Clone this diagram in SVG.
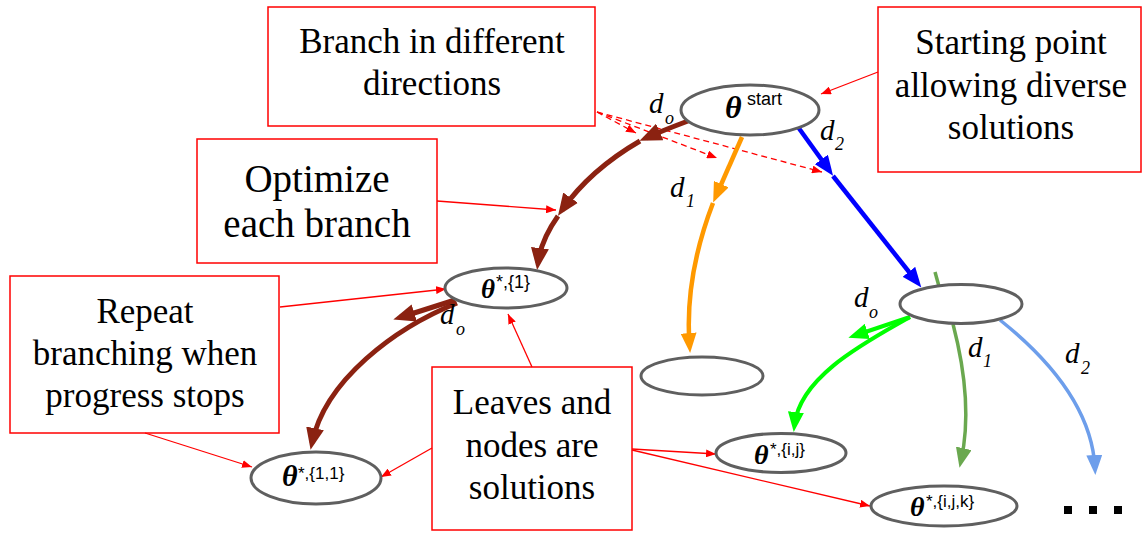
<svg xmlns="http://www.w3.org/2000/svg" width="1144" height="533" viewBox="0 0 1144 533">
  <style>
    .box { fill: #ffffff; stroke: #ff0000; stroke-width: 1.5; }
    .lbl { font-family: "Liberation Serif", "Times New Roman", serif; font-size: 35px; fill: #000; text-anchor: middle; }
    .node { fill: #ffffff; stroke: #5f5f5f; stroke-width: 3; }
    .th { font-family: "Liberation Serif", "Times New Roman", serif; font-weight: bold; font-style: italic; fill: #000; }
    .sup { font-family: "Liberation Sans", Arial, sans-serif; fill: #000; }
    .d { font-family: "Liberation Serif", "Times New Roman", serif; font-style: italic; font-size: 29px; fill: #000; }
    .ds { font-family: "Liberation Serif", "Times New Roman", serif; font-style: italic; font-size: 18px; fill: #000; }
    .call { fill: none; stroke: #ff0000; stroke-width: 1.3; marker-end: url(#aRed); }
    .dash { stroke-dasharray: 6 4; }
    .br { fill: none; stroke: #8b2211; stroke-width: 5; marker-end: url(#aBrown); }
    .or { fill: none; stroke: #ff9900; stroke-width: 4.5; marker-end: url(#aOrange); }
    .bl { fill: none; stroke: #0000ff; stroke-width: 4.5; marker-end: url(#aBlue); }
    .gr { fill: none; stroke: #00ff00; stroke-width: 4; marker-end: url(#aGreen); }
    .ol { fill: none; stroke: #6aa84f; stroke-width: 3.5; marker-end: url(#aOlive); }
    .lb { fill: none; stroke: #6d9eeb; stroke-width: 3.5; marker-end: url(#aLight); }
  </style>
  <defs>
    <marker id="aRed" viewBox="0 0 10 8" refX="10" refY="4" markerWidth="10" markerHeight="8" markerUnits="userSpaceOnUse" orient="auto">
      <path d="M0,0 L10,4 L0,8 z" fill="#ff0000"/>
    </marker>
    <marker id="aBrown" viewBox="0 0 22 18" refX="15" refY="9" markerWidth="22" markerHeight="18" markerUnits="userSpaceOnUse" orient="auto">
      <path d="M0,0 L22,9 L0,18 z" fill="#8b2211"/>
    </marker>
    <marker id="aOrange" viewBox="0 0 20 16" refX="13" refY="8" markerWidth="20" markerHeight="16" markerUnits="userSpaceOnUse" orient="auto">
      <path d="M0,0 L20,8 L0,16 z" fill="#ff9900"/>
    </marker>
    <marker id="aBlue" viewBox="0 0 20 16" refX="13" refY="8" markerWidth="20" markerHeight="16" markerUnits="userSpaceOnUse" orient="auto">
      <path d="M0,0 L20,8 L0,16 z" fill="#0000ff"/>
    </marker>
    <marker id="aGreen" viewBox="0 0 20 16" refX="13" refY="8" markerWidth="20" markerHeight="16" markerUnits="userSpaceOnUse" orient="auto">
      <path d="M0,0 L20,8 L0,16 z" fill="#00ff00"/>
    </marker>
    <marker id="aOlive" viewBox="0 0 20 16" refX="13" refY="8" markerWidth="20" markerHeight="16" markerUnits="userSpaceOnUse" orient="auto">
      <path d="M0,0 L20,8 L0,16 z" fill="#6aa84f"/>
    </marker>
    <marker id="aLight" viewBox="0 0 20 16" refX="13" refY="8" markerWidth="20" markerHeight="16" markerUnits="userSpaceOnUse" orient="auto">
      <path d="M0,0 L20,8 L0,16 z" fill="#6d9eeb"/>
    </marker>
  </defs>

  <rect width="1144" height="533" fill="#ffffff"/>

  <!-- annotation boxes -->
  <g id="note-branch">
    <rect class="box" x="268" y="7" width="327" height="119"/>
    <text class="lbl" x="432" y="53">Branch in different</text>
    <text class="lbl" x="432" y="95">directions</text>
  </g>
  <g id="note-start">
    <rect class="box" x="878" y="7" width="263" height="165"/>
    <text class="lbl" x="1011" y="54">Starting point</text>
    <text class="lbl" x="1011" y="97">allowing diverse</text>
    <text class="lbl" x="1011" y="139">solutions</text>
  </g>
  <g id="note-optimize">
    <rect class="box" x="197" y="139" width="240" height="124"/>
    <text class="lbl" x="317" y="192" style="font-size:39px">Optimize</text>
    <text class="lbl" x="317" y="237" style="font-size:39px">each branch</text>
  </g>
  <g id="note-repeat">
    <rect class="box" x="10" y="276" width="269" height="157"/>
    <text class="lbl" x="145" y="323">Repeat</text>
    <text class="lbl" x="145" y="365">branching when</text>
    <text class="lbl" x="145" y="407">progress stops</text>
  </g>
  <g id="note-leaves">
    <rect class="box" x="432" y="367" width="200" height="163"/>
    <text class="lbl" x="532" y="414">Leaves and</text>
    <text class="lbl" x="532" y="457">nodes are</text>
    <text class="lbl" x="532" y="499">solutions</text>
  </g>

  <!-- connectors -->
  <g id="connectors">
    <!-- callout arrows -->
    <path class="call" d="M878,72 L821,94"/>
    <path class="call dash" d="M597,112 L636,133"/>
    <path class="call dash" d="M597,112 L717,158"/>
    <path class="call dash" d="M597,112 L822,172"/>
    <path class="call" d="M437,201 L556,210"/>
    <path class="call" d="M280,307 L446,289"/>
    <path class="call" d="M145,433 L252,467"/>
    <path class="call" d="M532,367 L508,314"/>
    <path class="call" d="M432,448 L381,477"/>
    <path class="call" d="M632,449 L716,454"/>
    <path class="call" d="M632,450 L870,506"/>

    <!-- d_o branch from the start point -->
    <path class="br" d="M688,121 Q664,130 646,138"/>
    <path class="br" d="M640,141 Q590,170 562,210"/>
    <path class="br" d="M558,216 Q541,240 538,263"/>
    <!-- repeated branching below theta*,{1} -->
    <path class="br" d="M455,300 L400,317.5"/>
    <path class="br" d="M457,303 C395,328 325,380 312,443"/>

    <!-- d_1 branch -->
    <path class="or" d="M742,137 L716,196"/>
    <path class="or" d="M713,203 C695,250 686,300 689.6,346"/>

    <!-- d_2 branch -->
    <path class="bl" d="M798,127 L829,170"/>
    <path class="bl" d="M833,176 L917,282"/>

    <!-- branches of the lower right node -->
    <path class="gr" d="M910,317 L855,335.5"/>
    <path class="gr" d="M910,317 C870,340 800,375 794.5,425"/>
    <path fill="none" stroke="#6aa84f" stroke-width="3.5" d="M935,272 L940,290"/>
    <path class="ol" d="M953,324 C965,370 970,420 961,461"/>
    <path class="lb" d="M1000,320 C1050,360 1092,410 1095,468"/>
  </g>

  <!-- solution nodes -->
  <g id="node-start">
    <ellipse class="node" cx="750" cy="110" rx="69" ry="25"/>
    <text x="725" y="118"><tspan class="th" font-size="32">θ</tspan><tspan class="sup" font-size="18" x="747" y="105">start</tspan></text>
  </g>
  <g id="node-1">
    <ellipse class="node" cx="506" cy="288" rx="61" ry="20"/>
    <text x="481" y="298"><tspan class="th" font-size="27">θ</tspan><tspan class="sup" font-size="18" x="496" y="288">*,{1}</tspan></text>
  </g>
  <g id="node-1-1">
    <ellipse class="node" cx="316" cy="478" rx="65" ry="26"/>
    <text x="282" y="486"><tspan class="th" font-size="30">θ</tspan><tspan class="sup" font-size="17" x="298" y="479">*,{1,1}</tspan></text>
  </g>
  <g id="node-leaf-d1">
    <ellipse class="node" cx="702" cy="376" rx="61" ry="19"/>
  </g>
  <g id="node-ij-parent">
    <ellipse class="node" cx="961" cy="304" rx="61" ry="19.5"/>
  </g>
  <g id="node-ij">
    <ellipse class="node" cx="781" cy="453" rx="65" ry="19.5"/>
    <text x="754" y="464"><tspan class="th" font-size="28">θ</tspan><tspan class="sup" font-size="17" x="770" y="455">*,{i,j}</tspan></text>
  </g>
  <g id="node-ijk">
    <ellipse class="node" cx="944" cy="506" rx="73" ry="20"/>
    <text x="910" y="516"><tspan class="th" font-size="28">θ</tspan><tspan class="sup" font-size="17" x="926" y="507">*,{i,j,k}</tspan></text>
  </g>

  <!-- direction labels -->
  <g id="direction-labels">
    <text x="649" y="113"><tspan class="d">d</tspan><tspan class="ds" x="665" y="124">o</tspan></text>
    <text x="820" y="140"><tspan class="d">d</tspan><tspan class="ds" x="835" y="150">2</tspan></text>
    <text x="670" y="197"><tspan class="d">d</tspan><tspan class="ds" x="686" y="207">1</tspan></text>
    <text x="440" y="324"><tspan class="d">d</tspan><tspan class="ds" x="456" y="335">o</tspan></text>
    <text x="854" y="307"><tspan class="d">d</tspan><tspan class="ds" x="869" y="318">o</tspan></text>
    <text x="968" y="357"><tspan class="d">d</tspan><tspan class="ds" x="983" y="367">1</tspan></text>
    <text x="1065" y="363"><tspan class="d">d</tspan><tspan class="ds" x="1081" y="374">2</tspan></text>
  </g>

  <!-- continuation marks -->
  <g id="ellipsis" fill="#000">
    <rect x="1064" y="506" width="8" height="8"/>
    <rect x="1089" y="506" width="8" height="8"/>
    <rect x="1114" y="506" width="8" height="8"/>
  </g>
</svg>
